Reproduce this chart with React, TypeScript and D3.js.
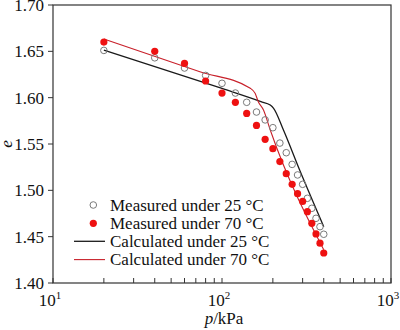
import React from "react";
import * as d3 from "d3";

const pMeasured = [20, 40, 60, 80, 100, 120, 140, 160, 180, 200, 220, 240, 260, 280, 300, 320, 340, 360, 380, 400];
const eMeasured25 = [1.651, 1.643, 1.632, 1.624, 1.6155, 1.605, 1.595, 1.5845, 1.576, 1.5676, 1.551, 1.5406, 1.528, 1.5166, 1.5065, 1.4914, 1.4806, 1.4698, 1.4608, 1.4526];
const eMeasured70 = [1.66, 1.65, 1.637, 1.618, 1.605, 1.595, 1.583, 1.57, 1.555, 1.545, 1.531, 1.518, 1.5065, 1.4964, 1.488, 1.477, 1.4644, 1.453, 1.443, 1.4324];

const pCalc25 = [20, 100, 170, 193, 202, 231, 288, 400];
const eCalc25 = [1.6514, 1.6099, 1.5957, 1.592, 1.5885, 1.5651, 1.5219, 1.4608];
const pCalc70 = [20, 74, 147, 157, 164, 176, 193, 400];
const eCalc70 = [1.6633, 1.628, 1.6101, 1.6047, 1.5957, 1.5867, 1.5651, 1.436];

const yTicks = [1.4, 1.45, 1.5, 1.55, 1.6, 1.65, 1.7];
const xMajor = [10, 100, 1000];
const xMinor = [20, 30, 40, 50, 60, 70, 80, 90, 200, 300, 400, 500, 600, 700, 800, 900];
const legendLabels = ["Measured under 25 °C", "Measured under 70 °C", "Calculated under 25 °C", "Calculated under 70 °C"];

const FONT = "'Liberation Serif', 'Times New Roman', serif";

export default function App() {
  const left = 53, right = 391, top = 5, bottom = 283;
  const x = d3.scaleLog().domain([10, 1000]).range([left, right]);
  const y = d3.scaleLinear().domain([1.4, 1.7]).range([bottom, top]);
  const line = d3
    .line<[number, number]>()
    .x(d => x(d[0]))
    .y(d => y(d[1]))
    .curve(d3.curveMonotoneX);
  const c25 = pCalc25.map((p, i) => [p, eCalc25[i]] as [number, number]);
  const c70 = pCalc70.map((p, i) => [p, eCalc70[i]] as [number, number]);
  const legendY = [205, 223.3, 241.3, 259.6];
  return (
    <svg width={400} height={330} style={{ position: "absolute", left: 0, top: 0, background: "#fff" }} fontFamily={FONT}>
      <rect x={0} y={0} width={400} height={330} fill="#fff" />
      <path d={line(c25) || ""} fill="none" stroke="#1a1a1a" strokeWidth={1.3} />
      <path d={line(c70) || ""} fill="none" stroke="#c8202a" strokeWidth={1.1} />
      {pMeasured.map((p, i) => (
        <circle key={"a" + i} cx={x(p)} cy={y(eMeasured25[i])} r={3.3} fill="none" stroke="#7a7a7a" strokeWidth={1} />
      ))}
      {pMeasured.map((p, i) => (
        <circle key={"b" + i} cx={x(p)} cy={y(eMeasured70[i])} r={3.6} fill="#ee1111" />
      ))}
      <rect x={left} y={top} width={right - left} height={bottom - top} fill="none" stroke="#333" strokeWidth={1.2} />
      {yTicks.map(t => (
        <g key={t}>
          <line x1={left - 5} x2={left} y1={y(t)} y2={y(t)} stroke="#333" strokeWidth={1} />
          <text x={left - 9} y={y(t)} dy="0.35em" textAnchor="end" fontSize={17} fill="#111">{t.toFixed(2)}</text>
        </g>
      ))}
      {[...xMajor, ...xMinor].map(t => (
        <line key={t} x1={x(t)} x2={x(t)} y1={bottom} y2={bottom - 5} stroke="#333" strokeWidth={1} />
      ))}
      {xMajor.map(t => (
        <text key={t} x={x(t) - 3} y={306} textAnchor="middle" fontSize={17} fill="#111">
          10<tspan fontSize={11} dy={-7}>{Math.round(Math.log10(t))}</tspan>
        </text>
      ))}
      <text x={224} y={324} textAnchor="middle" fontSize={17} fill="#111">
        <tspan fontStyle="italic">p</tspan>/kPa
      </text>
      <text transform={`translate(12,144) rotate(-90)`} textAnchor="middle" fontSize={17} fontStyle="italic" fill="#111">e</text>
      <circle cx={93.3} cy={legendY[0]} r={3.3} fill="none" stroke="#7a7a7a" strokeWidth={1} />
      <circle cx={93.3} cy={legendY[1]} r={3.6} fill="#ee1111" />
      <line x1={74} x2={105} y1={legendY[2]} y2={legendY[2]} stroke="#1a1a1a" strokeWidth={1.3} />
      <line x1={74} x2={105} y1={legendY[3]} y2={legendY[3]} stroke="#c8202a" strokeWidth={1.1} />
      {legendLabels.map((l, i) => (
        <text key={l} x={110} y={legendY[i] + 5.8} fontSize={17} fill="#111">{l}</text>
      ))}
    </svg>
  );
}
